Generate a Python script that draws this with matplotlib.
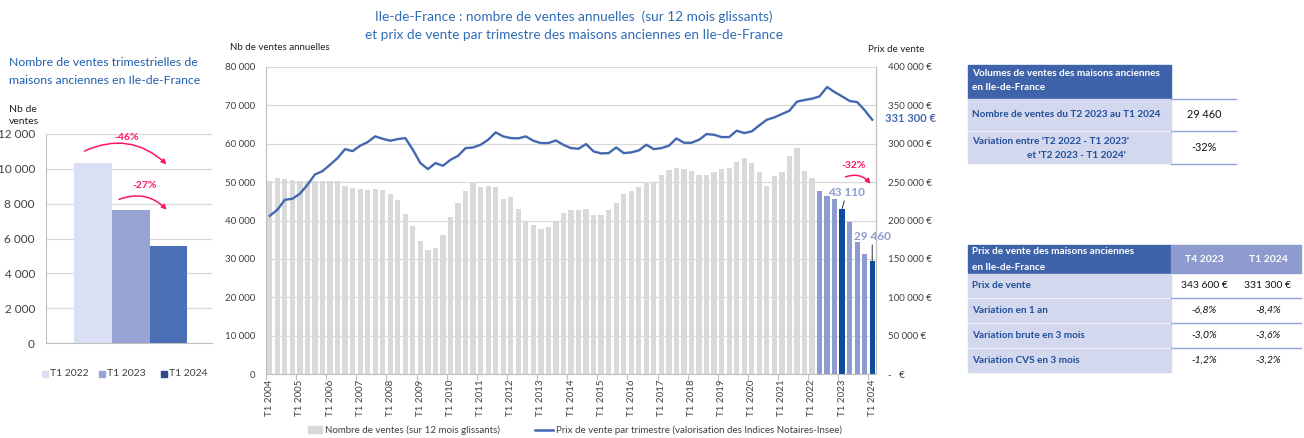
import matplotlib
matplotlib.use("Agg")
import matplotlib.pyplot as plt
from matplotlib.patches import Rectangle
import numpy as np

plt.rcParams['font.family'] = ['Lato', 'DejaVu Sans']

W, H = 1304, 438

# --- left chart: quarterly sales
trim_labels = ["T1 2022", "T1 2023", "T1 2024"]
trim_values = [10350, 7640, 5580]
trim_arrows = ["-46%", "-27%"]

# --- main chart: rolling 12-month sales and quarterly price, T1 2004 .. T1 2024
years = list(range(2004, 2025))
sales_12m = [50200, 51100, 50800, 50500, 50300, 50200, 50300, 50300, 50300, 50300,
             49100, 48500, 48300, 48000, 48100, 48000, 47000, 45300, 41700, 38500,
             34700, 32300, 32800, 36100, 41000, 44500, 47600, 49900, 48800, 49100,
             48600, 45700, 46000, 43000, 39900, 38900, 37700, 38300, 39900, 41900,
             42700, 42800, 43000, 41500, 41500, 42800, 44600, 47000, 47800, 48800,
             50000, 50000, 51900, 53100, 53700, 53400, 52900, 51900, 51900, 52700,
             53500, 53700, 55200, 56300, 55000, 52600, 48900, 51500, 52700, 56900,
             59000, 52900, 51100, 47800, 46500, 45700, 43110, 39700, 34300, 31300,
             29460]
price = [206100, 213900, 227000, 228300, 234800, 246500, 260000, 264300, 272600, 281300,
         293000, 290400, 297400, 302200, 309600, 306500, 303900, 306100, 307400, 292200,
         274800, 267000, 274800, 271300, 279100, 284300, 294300, 295200, 298700, 305200,
         314800, 309600, 307400, 307000, 309600, 303900, 300900, 300900, 304300, 298500,
         294300, 293500, 299600, 290000, 287400, 287800, 295200, 287800, 288700, 291300,
         298700, 293000, 294300, 297400, 307000, 301300, 301300, 305200, 312600, 311700,
         308700, 308700, 317000, 313900, 316100, 323900, 331300, 334300, 338700, 343000,
         354800, 357000, 358700, 361700, 373900, 367400, 361700, 355700, 354300, 343600,
         331300]
quarters = [f"T{q} {y}" for y in years for q in (1, 2, 3, 4)][:len(sales_12m)]
focus_start = "T2 2022"
focus_marks = ["T1 2023", "T1 2024"]
main_change = "-32%"

# --- tables
vol_header = ["Volumes de ventes des maisons anciennes", "en Ile-de-France"]
vol_rows = [["Nombre de ventes du T2 2023 au T1 2024"],
            ["Variation entre 'T2 2022 - T1 2023'", "et 'T2 2023 - T1 2024'"]]
vol_values = ["29 460", "-32%"]

price_header = ["Prix de vente des maisons anciennes", "en Ile-de-France"]
price_cols = ["T4 2023", "T1 2024"]
price_rows = ["Prix de vente", "Variation en 1 an", "Variation brute en 3 mois",
              "Variation CVS en 3 mois"]
price_t4 = ["343 600 €", "-6,8%", "-3,0%", "-1,2%"]
price_t1 = ["331 300 €", "-8,4%", "-3,6%", "-3,2%"]

TITLE = "#2f6cb6"
PINK = "#ff1464"
GRID = "#d9d9d9"
SPINE = "#bfbfbf"
TXT = "#404040"
DARKH = "#3e63aa"
LAB = "#d4d8ee"
LABTXT = "#1f4f9a"
MIDH = "#8e9bd0"
SEP = "#8fa4d8"


def fmt(v):
    return f"{v:,}".replace(",", " ")


def fax(l, t, r, b):
    return [l / W, 1 - b / H, (r - l) / W, (b - t) / H]


fig = plt.figure(figsize=(W / 100, H / 100), dpi=100)

# ---------------- left chart
axl = fig.add_axes(fax(46, 134, 212, 343))
cols_l = ["#dadff3", "#97a3d3", "#4a6fb5"]
xl = np.arange(len(trim_values))
axl.bar(xl, trim_values, width=1.0, color=cols_l, zorder=2)
axl.set_xlim(-1.25, 3.15)
axl.set_ylim(0, 12000)
axl.set_yticks(range(0, 12001, 2000))
axl.set_yticklabels([fmt(v) for v in range(0, 12001, 2000)])
axl.set_xticks([])
axl.grid(axis='y', color=GRID, lw=0.9, zorder=0)
for s in ("top", "right"):
    axl.spines[s].set_visible(False)
for s in ("left", "bottom"):
    axl.spines[s].set_color(SPINE)
axl.tick_params(axis='y', length=0, labelsize=8.5, colors=TXT, pad=8)

for (i0, i1, lab, dy) in [(0, 2, trim_arrows[0], 0), (1, 2, trim_arrows[1], 0)]:
    y0 = trim_values[i0] + (600 if i0 == 0 else 550)
    y1 = trim_values[i0] - (100 if i0 == 0 else 0)
    ax0 = i0 - 0.3 if i0 == 0 else i0 - 0.38
    axl.annotate("", xy=(i1, y1 - 100), xytext=(ax0, y0),
                 arrowprops=dict(arrowstyle="-|>", color=PINK, lw=1.1,
                                 mutation_scale=7,
                                 connectionstyle="arc3,rad=-0.35"))
    axl.text((ax0 + i1) / 2 + 0.05, y0 + (850 if i0 == 0 else 850), lab,
             color=PINK, fontsize=7.5, fontweight="bold", ha="center", va="center")

# ---------------- main chart
ax = fig.add_axes(fax(266, 67, 876, 374))
x = np.arange(len(sales_12m))
i_focus = quarters.index(focus_start)
bar_cols = []
for i, q in enumerate(quarters):
    if q in focus_marks:
        bar_cols.append("#0d4b9c")
    elif i >= i_focus:
        bar_cols.append("#8e9bd0")
    else:
        bar_cols.append("#d9d9d9")
ax.bar(x, sales_12m, width=0.7, color=bar_cols, zorder=2)
ax.set_xlim(-0.5, len(x) - 0.5)
ax.set_ylim(0, 80000)
ax.set_yticks(range(0, 80001, 10000))
ax.set_yticklabels([fmt(v) for v in range(0, 80001, 10000)])
ax.grid(axis='y', color=GRID, lw=0.9, zorder=0)
ax.set_xticks(np.arange(-0.5, len(x) - 1, 4))
ax.set_xticklabels([])
ax.set_xticks(np.arange(0, len(x), 4), minor=True)
ax.set_xticklabels([quarters[i] for i in range(0, len(x), 4)], minor=True)
ax.tick_params(axis='x', which='major', length=4, color=SPINE)
ax.tick_params(axis='x', which='minor', length=0, labelsize=7, rotation=90,
               colors=TXT, pad=4)
ax.tick_params(axis='y', length=0, labelsize=7, colors=TXT, pad=8)
ax.spines["top"].set_visible(False)
for s in ("left", "right", "bottom"):
    ax.spines[s].set_color(SPINE)

ax2 = ax.twinx()
ax2.plot(x, price, color="#4468b0", lw=1.7, zorder=3)
ax2.set_ylim(0, 400000)
ax2.set_yticks(range(0, 400001, 50000))
ax2.set_yticklabels(["-   €"] + [fmt(v) + " €" for v in range(50000, 400001, 50000)])
ax2.tick_params(axis='y', length=0, labelsize=7, colors=TXT, pad=9)
for s in ("top", "left", "bottom"):
    ax2.spines[s].set_visible(False)
ax2.spines["right"].set_color(SPINE)

# data labels on highlighted bars
for q, dx, dy in [(focus_marks[0], 0.6, 2750), (focus_marks[1], 0.0, 4900)]:
    i = quarters.index(q)
    v = sales_12m[i]
    ax.annotate(fmt(v), xy=(i, v), xytext=(i + dx, v + dy),
                ha="center", va="bottom", fontsize=8.5, fontweight="bold",
                color="#8e9bd0",
                arrowprops=dict(arrowstyle="-", color="#333333", lw=0.7,
                                shrinkA=0, shrinkB=0))
ax.annotate("", xy=(80.0, 49000), xytext=(76.1, 51100),
            arrowprops=dict(arrowstyle="-|>", color=PINK, lw=1.1, mutation_scale=7,
                            connectionstyle="arc3,rad=-0.4"))
ax.text(77.5, 54300, main_change, color=PINK, fontsize=7.5, fontweight="bold",
        ha="center", va="center")

# ---------------- overlay: titles, legends, tables
ov = fig.add_axes([0, 0, 1, 1], zorder=5)
ov.set_xlim(0, W)
ov.set_ylim(H, 0)
ov.axis("off")

ov.text(574, 17, "Ile-de-France : nombre de ventes annuelles  (sur 12 mois glissants)",
        ha="center", va="center", fontsize=9.8, color=TITLE)
ov.text(574, 35, "et prix de vente par trimestre des maisons anciennes en Ile-de-France",
        ha="center", va="center", fontsize=9.8, color=TITLE)
ov.text(230, 48, "Nb de ventes annuelles", ha="left", va="center", fontsize=7, color="#222222")
ov.text(924, 49, "Prix de vente", ha="right", va="center", fontsize=7, color="#222222")
ov.text(885, 119, fmt(price[-1]) + " €", ha="left", va="center", fontsize=8,
        fontweight="bold", color="#4468b0")

ov.text(9, 62, "Nombre de ventes trimestrielles de", ha="left", va="center",
        fontsize=8.8, color="#1f5fae")
ov.text(9, 80, "maisons anciennes en Ile-de-France", ha="left", va="center",
        fontsize=8.8, color="#1f5fae")
ov.text(9, 109, "Nb de", ha="left", va="center", fontsize=7.5, color="#222222")
ov.text(9, 122, "ventes", ha="left", va="center", fontsize=7.5, color="#222222")

# left legend
for xs, lab, c in zip([42, 99, 161], trim_labels, ["#dadff3", "#97a3d3", "#2f4a8a"]):
    ov.add_patch(Rectangle((xs, 371), 6, 6, color=c))
    ov.text(xs + 8, 374, lab, ha="left", va="center", fontsize=7.5, color=TXT)

# main legend
ov.add_patch(Rectangle((308, 426), 14, 7, color="#d9d9d9"))
ov.text(325, 430, "Nombre de ventes (sur 12 mois glissants)", ha="left", va="center",
        fontsize=7, color=TXT)
ov.plot([535, 553], [430, 430], color="#4468b0", lw=1.8)
ov.text(556, 430, "Prix de vente par trimestre (valorisation des Indices Notaires-Insee)",
        ha="left", va="center", fontsize=7, color=TXT)

# table 1
ov.add_patch(Rectangle((968, 65), 203, 33, color=DARKH))
ov.text(972, 73, vol_header[0], fontsize=7.2, fontweight="bold", color="white", va="center")
ov.text(972, 88, vol_header[1], fontsize=7.2, fontweight="bold", color="white", va="center")
rows1 = [(99, 130), (132, 163)]
for (t, b), lines, val in zip(rows1, vol_rows, vol_values):
    ov.add_patch(Rectangle((968, t), 203, b - t, color=LAB))
    if len(lines) == 1:
        ov.text(972, (t + b) / 2, lines[0], fontsize=7.2, fontweight="bold",
                color=LABTXT, va="center")
    else:
        ov.text(972, t + 9, lines[0], fontsize=7.2, fontweight="bold",
                color=LABTXT, va="center")
        ov.text(1027, t + 24, lines[1], fontsize=7.2, fontweight="bold",
                color=LABTXT, va="center")
    ov.text(1204, (t + b) / 2, val, fontsize=7.8, color="#111111",
            ha="center", va="center")
for yl in (98.5, 131, 163.5):
    ov.plot([1171, 1236], [yl, yl], color=SEP, lw=1.0)

# table 2
ov.add_patch(Rectangle((968, 245), 203, 28, color=DARKH))
ov.add_patch(Rectangle((1171, 245), 130, 28, color=MIDH))
ov.text(972, 252, price_header[0], fontsize=7.2, fontweight="bold", color="white", va="center")
ov.text(972, 267, price_header[1], fontsize=7.2, fontweight="bold", color="white", va="center")
cx = [1204, 1268]
for c, lab in zip(cx, price_cols):
    ov.text(c, 259, lab, fontsize=7.5, fontweight="bold", color="white",
            ha="center", va="center")
rows2 = [(274, 297), (299, 322), (324, 347), (349, 372)]
for k, ((t, b), lab) in enumerate(zip(rows2, price_rows)):
    ov.add_patch(Rectangle((968, t), 203, b - t, color=LAB))
    ov.text(972, (t + b) / 2, lab, fontsize=7.2, fontweight="bold", color=LABTXT,
            va="center")
    style = "normal" if k == 0 else "italic"
    for c, v in zip(cx, [price_t4[k], price_t1[k]]):
        ov.text(c, (t + b) / 2, v, fontsize=7.5, style=style, color="#111111",
                ha="center", va="center")
for yl in (298, 323, 348):
    ov.plot([1171, 1301], [yl, yl], color=SEP, lw=1.0)

fig.savefig("out.png", dpi=100)
